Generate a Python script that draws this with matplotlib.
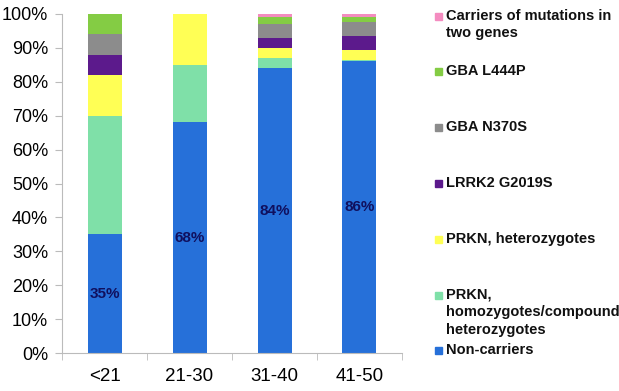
import matplotlib
matplotlib.use('Agg')
import matplotlib.pyplot as plt
import matplotlib.ticker as mtick
from matplotlib.patches import Rectangle
import numpy as np

plt.rcParams['font.family'] = ['Liberation Sans', 'DejaVu Sans']

# age groups
ageGroups = ['<21', '21-30', '31-40', '41-50']

# share of patients (%) per group, bottom to top
nonCarriers = [35, 68, 84, 86]
prknHomo = [35, 17, 3, 0.5]
prknHetero = [12, 15, 3, 3]
lrrk2 = [6, 0, 3, 4]
gbaN370S = [6, 0, 4, 4]
gbaL444P = [6, 0, 2, 1.5]
twoGenes = [0, 0, 1, 1]

seriesNames = ['Non-carriers',
               'PRKN,\nhomozygotes/compound\nheterozygotes',
               'PRKN, heterozygotes',
               'LRRK2 G2019S',
               'GBA N370S',
               'GBA L444P',
               'Carriers of mutations in\ntwo genes']
seriesValues = [nonCarriers, prknHomo, prknHetero, lrrk2, gbaN370S, gbaL444P, twoGenes]
colors = ['#2670d9', '#7fe0a8', '#ffff55', '#5c1a8c', '#8c8c8c', '#84cc44', '#f48cc0']

fig = plt.figure(figsize=(6.19, 3.91), dpi=100)
ax = fig.add_axes([62 / 619, 38 / 391, 340 / 619, 339 / 391])

x = np.arange(len(ageGroups))
bottom = np.zeros(len(ageGroups))
for vals, col in zip(seriesValues, colors):
    ax.bar(x, vals, width=0.4, bottom=bottom, color=col, edgecolor='none')
    bottom += np.array(vals)

# value labels in the middle of the blue segment
for xi, v in zip(x, nonCarriers):
    ax.text(xi, v / 2, '{}%'.format(v), ha='center', va='center', fontsize=11,
            fontweight='bold', color='#10105e')

ax.set_xlim(-0.5, len(ageGroups) - 0.5)
ax.set_ylim(0, 100)
ax.yaxis.set_major_locator(mtick.MultipleLocator(10))
ax.yaxis.set_major_formatter(mtick.PercentFormatter(decimals=0))
ax.set_xticks(x)
ax.set_xticklabels(ageGroups)
ax.set_xticks(np.arange(len(ageGroups) + 1) - 0.5, minor=True)
ax.tick_params(axis='x', which='major', length=0, pad=11, labelsize=13.5)
ax.tick_params(axis='x', which='minor', length=5, color='#bbbbbb')
ax.tick_params(axis='y', length=5, color='#bbbbbb', labelsize=13, pad=5)

for side in ['top', 'right']:
    ax.spines[side].set_visible(False)
for side in ['left', 'bottom']:
    ax.spines[side].set_color('#bbbbbb')

# Excel-like legend on the right, top entry first
legendTop = 16
legendStep = 55.8
for i, (name, col) in enumerate(zip(seriesNames[::-1], colors[::-1])):
    ypx = legendTop + i * legendStep
    if i == len(seriesNames) - 1:
        ypx = 350
    yf = 1 - ypx / 391
    fig.patches.append(Rectangle((435 / 619, yf - 3.5 / 391), 7 / 619, 7 / 391,
                                 transform=fig.transFigure, color=col))
    fig.text(446 / 619, yf + 7.5 / 391, name, ha='left', va='top', fontsize=10.5,
             fontweight='bold', color='#111111', linespacing=1.35)

fig.savefig('out.png', dpi=100)
